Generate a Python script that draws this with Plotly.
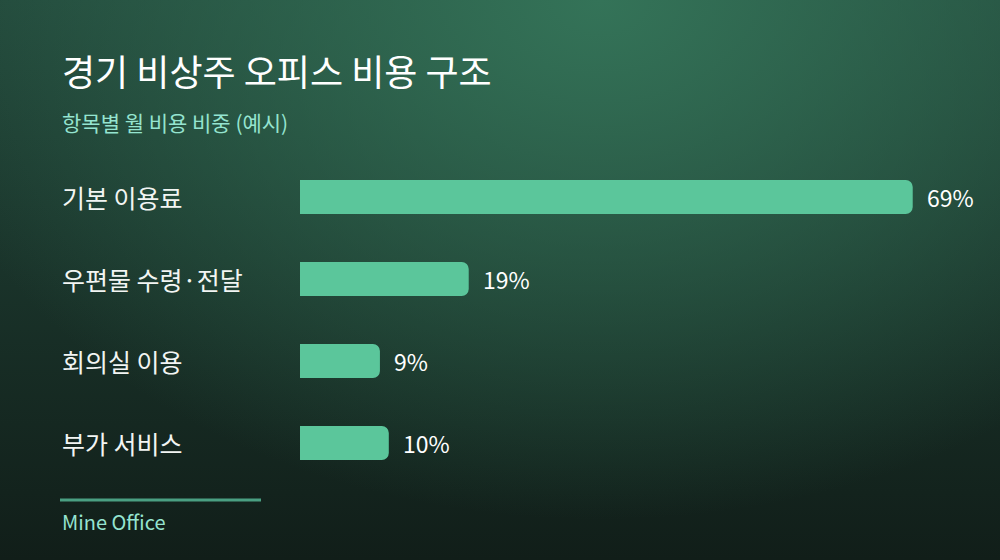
import base64
import plotly.graph_objects as go

# data
categories = ['기본 이용료', '우편물 수령·전달', '회의실 이용', '부가 서비스']
shares = [69, 19, 9, 10]
value_labels = ['69%', '19%', '9%', '10%']

title_text = '경기 비상주 오피스 비용 구조'
subtitle_text = '항목별 월 비용 비중 (예시)'
footer_text = 'Mine Office'

# colours / fonts
bar_color = '#5bc69b'
kr_font = 'Noto Sans CJK KR, Noto Sans, sans-serif'

# background gradient as an svg image
svg = (
    '<svg xmlns="http://www.w3.org/2000/svg" width="1000" height="560" '
    'viewBox="0 0 1000 560" preserveAspectRatio="none">'
    '<defs>'
    '<linearGradient id="l" x1="0" y1="0" x2="0" y2="1">'
    '<stop offset="0" stop-color="#22473a"/><stop offset="1" stop-color="#111e19"/>'
    '</linearGradient>'
    '<radialGradient id="r" gradientUnits="userSpaceOnUse" cx="600" cy="0" r="520" '
    'gradientTransform="translate(600 0) scale(1.35 1) translate(-600 0)">'
    '<stop offset="0" stop-color="#347358" stop-opacity="1"/>'
    '<stop offset="1" stop-color="#347358" stop-opacity="0"/>'
    '</radialGradient>'
    '</defs>'
    '<rect width="1000" height="560" fill="url(#l)"/>'
    '<rect width="1000" height="560" fill="url(#r)"/>'
    '</svg>'
)
bg_src = 'data:image/svg+xml;base64,' + base64.b64encode(svg.encode()).decode()

fig = go.Figure(go.Bar(
    x=shares, y=categories, orientation='h',
    marker=dict(color=bar_color, line=dict(width=0)),
    width=0.415, hoverinfo='skip',
))

annotations = [
    dict(text=title_text, x=0.06, y=0.875, xref='paper', yref='paper',
         xanchor='left', yanchor='middle', showarrow=False,
         font=dict(family=kr_font, size=36, color='#ffffff')),
    dict(text=subtitle_text, x=0.06, y=0.782, xref='paper', yref='paper',
         xanchor='left', yanchor='middle', showarrow=False,
         font=dict(family=kr_font, size=21, color='#95e4d0')),
    dict(text=footer_text, x=0.06, y=0.069, xref='paper', yref='paper',
         xanchor='left', yanchor='middle', showarrow=False,
         font=dict(family=kr_font, size=20, color='#95e4d0')),
]

# category labels on the left
for c in categories:
    annotations.append(dict(text=c, x=0.06, y=c, xref='paper', yref='y',
                            xanchor='left', yanchor='middle', showarrow=False,
                            font=dict(family=kr_font, size=25, color='#f2f5f3')))

# value labels at bar ends
for c, v, t in zip(categories, shares, value_labels):
    annotations.append(dict(text=t, x=v, y=c, xref='x', yref='y',
                            xanchor='left', yanchor='middle', xshift=12,
                            showarrow=False,
                            font=dict(family=kr_font, size=23, color='#ffffff')))

fig.update_layout(
    width=1000, height=560,
    margin=dict(l=0, r=0, t=0, b=0),
    paper_bgcolor='#17291f', plot_bgcolor='rgba(0,0,0,0)',
    showlegend=False,
    barcornerradius=7,
    xaxis=dict(domain=[0.3, 0.966], range=[0, 75], visible=False, fixedrange=True),
    yaxis=dict(domain=[0.1357, 0.7214], range=[3.5, -0.5], visible=False,
               type='category', categoryarray=categories, fixedrange=True),
    annotations=annotations,
    shapes=[dict(type='line', xref='paper', yref='paper', x0=0.06, x1=0.261,
                 y0=0.107, y1=0.107, line=dict(color='#4a9f82', width=3))],
    images=[dict(source=bg_src, xref='paper', yref='paper', x=0, y=1,
                 sizex=1, sizey=1, sizing='stretch', layer='below',
                 xanchor='left', yanchor='top')],
)

# drop the default page margin so the chart sits flush with the window
fig.write_html('out.html', config={'displayModeBar': False},
               post_script="document.body.style.margin='0';")
